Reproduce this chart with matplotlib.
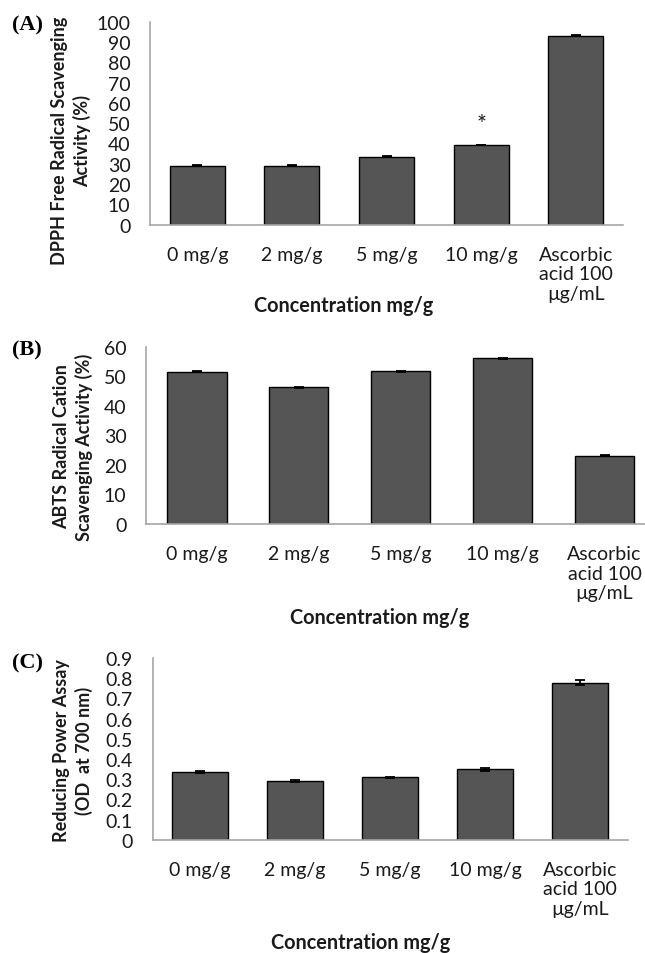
import matplotlib
matplotlib.use("Agg")
import matplotlib.pyplot as plt

plt.rcParams["font.family"] = ["Lato", "DejaVu Sans"]

categories = ["0 mg/g", "2 mg/g", "5 mg/g", "10 mg/g", "Ascorbic\nacid 100\n\u00b5g/mL"]
dpph = [29.1, 29.0, 33.5, 39.3, 93.1]
dpph_err = [0.2, 0.2, 0.2, 0.2, 0.2]
abts = [51.5, 46.3, 51.7, 56.1, 23.1]
abts_err = [0.15, 0.15, 0.15, 0.15, 0.15]
reducing = [0.335, 0.290, 0.309, 0.349, 0.778]
reducing_err = [0.004, 0.005, 0.004, 0.007, 0.011]

W, H = 645, 954
BAR = "#555555"
AXC = "#a6a6a6"
TXT = "#1a1a1a"

fig = plt.figure(figsize=(W / 100, H / 100), dpi=100)


def panel(left, right, top, bottom, vals, errs, ymax, step, fmt):
    ax = fig.add_axes([left / W, 1 - bottom / H, (right - left) / W, (bottom - top) / H])
    x = range(len(vals))
    ax.bar(x, vals, width=0.58, color=BAR, edgecolor="black", linewidth=1.0,
           yerr=errs, error_kw=dict(ecolor="black", elinewidth=1.3, capsize=3.5, capthick=1.3))
    ax.set_xlim(-0.5, len(vals) - 0.5)
    ax.set_ylim(0, ymax)
    ticks = [i * step for i in range(int(round(ymax / step)) + 1)]
    ax.set_yticks(ticks)
    ax.set_yticklabels([fmt(t) for t in ticks])
    ax.set_xticks(list(x))
    ax.set_xticklabels(categories, linespacing=1.2, va="top")
    ax.tick_params(length=0, labelsize=14, colors=TXT)
    ax.tick_params(axis="y", pad=14)
    ax.tick_params(axis="x", pad=15)
    for s in ("top", "right"):
        ax.spines[s].set_visible(False)
    for s in ("left", "bottom"):
        ax.spines[s].set_color(AXC)
        ax.spines[s].set_linewidth(1.2)
    ax.set_facecolor("none")
    return ax


def ylab(x, y, s):
    fig.text(x / W, 1 - y / H, s, rotation=90, ha="center", va="center",
             fontsize=13, fontweight="bold", linespacing=1.3, color=TXT)


def xlab(x, y):
    fig.text(x / W, 1 - y / H, "Concentration mg/g", ha="center", va="center",
             fontsize=14.3, fontweight="bold", color=TXT)


def tag(y, s):
    fig.text(12 / W, 1 - y / H, s, ha="left", va="center", fontsize=16,
             fontweight="bold", family="Liberation Serif")


# (A) DPPH
axA = panel(150, 623, 22.7, 225.7, dpph, dpph_err, 100, 10, lambda t: f"{t:g}")
axA.text(3, 50, "*", ha="center", va="center", fontsize=17, color=TXT)
ylab(71, 141, "DPPH Free Radical Scavenging\nActivity (%)")
xlab(344, 306)
tag(25, "(A)")

# (B) ABTS
axB = panel(146, 655.5, 347.7, 525, abts, abts_err, 60, 10, lambda t: f"{t:g}")
ylab(73, 447, "ABTS Radical Cation\nScavenging Activity (%)")
xlab(380, 618)
tag(350, "(B)")

# (C) Reducing power
axC = panel(152.5, 627.5, 659, 840.7, reducing, reducing_err, 0.9, 0.1,
            lambda t: "0" if t == 0 else f"{t:.1f}")
ylab(73, 751, "Reducing Power Assay\n(OD  at 700 nm)")
xlab(361, 943)
tag(663, "(C)")

fig.savefig("out.png", dpi=100)
